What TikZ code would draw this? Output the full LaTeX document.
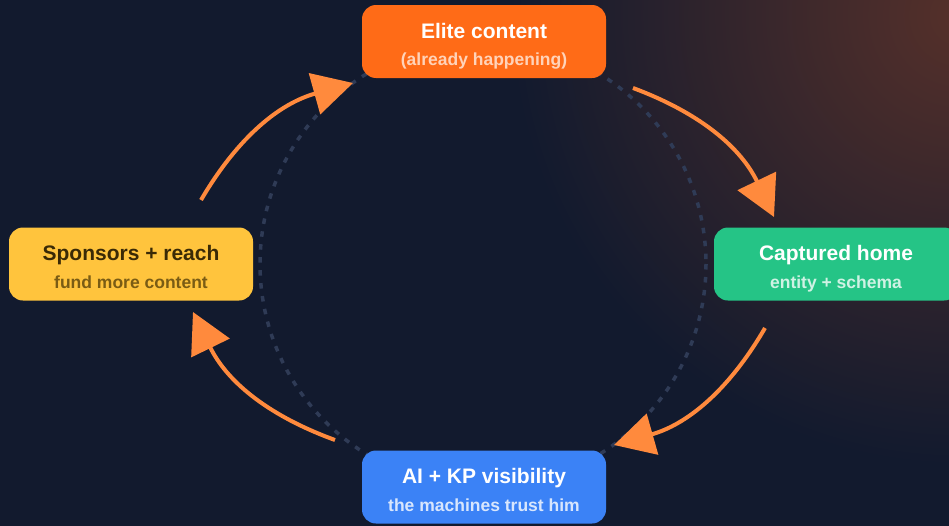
\documentclass[tikz,border=0pt]{standalone}
\usepackage{fontspec}
\setmainfont{Liberation Sans}
\usetikzlibrary{arrows.meta,calc,positioning}

\definecolor{bgnavy}{HTML}{121A2E}
\definecolor{glowbrown}{HTML}{55302A}
\definecolor{ringgrey}{HTML}{2F3B56}
\definecolor{cyclecol}{HTML}{FF8A3D}
\definecolor{elitefill}{HTML}{FF6B17}
\definecolor{homefill}{HTML}{25C486}
\definecolor{visfill}{HTML}{3B82F6}
\definecolor{sponsfill}{HTML}{FFC43D}
\definecolor{sponstext}{HTML}{3A2A06}
\definecolor{sponssub}{HTML}{7A5C14}

\begin{document}
\begin{tikzpicture}[x=1pt,y=-1pt,
  stage/.style={rounded corners=14pt,minimum width=244pt,minimum height=73pt,inner sep=0pt},
  headline/.style={anchor=base,font=\bfseries\fontsize{21}{25}\selectfont,text=white},
  subline/.style={anchor=base,font=\bfseries\fontsize{17.5}{21}\selectfont},
  cyclearrow/.style={color=cyclecol,line width=4pt,-{Triangle[length=40pt,width=42pt]}}]
  \clip (0,0) rectangle (949,525);
  \fill[bgnavy] (-5,-5) rectangle (954,530);
  \shade[inner color=glowbrown,outer color=bgnavy] (960,15) circle (450);
  % dotted ring behind the stages
  \draw[ringgrey,line width=3.5pt,dash pattern=on 5.5pt off 7.5pt] (483,264) circle (223);

  \node[stage,fill=elitefill] (elite) at (484,41.5) {};
  \node[stage,fill=homefill] (home) at (836,264) {};
  \node[stage,fill=visfill] (vis) at (484,487) {};
  \node[stage,fill=sponsfill] (sponsors) at (131,264) {};

  \node[headline] (elite-t) at ($(elite)+(0,-3.5)$) {Elite content};
  \node[subline,text=white!70!elitefill] (elite-s) at ($(elite)+(0,24)$) {(already happening)};
  \node[headline] (home-t) at ($(home)+(0,-3.5)$) {Captured home};
  \node[subline,text=white!78!homefill] (home-s) at ($(home)+(0,24)$) {entity + schema};
  \node[headline] (vis-t) at ($(vis)+(0,-3.5)$) {AI + KP visibility};
  \node[subline,text=white!80!visfill] (vis-s) at ($(vis)+(0,24)$) {the machines trust him};
  \node[headline,text=sponstext] (sponsors-t) at ($(sponsors)+(0,-3.5)$) {Sponsors + reach};
  \node[subline,text=sponssub] (sponsors-s) at ($(sponsors)+(0,24)$) {fund more content};

  \coordinate (a1) at (633,88);
  \coordinate (a2) at (765,328);
  \coordinate (a3) at (335,440);
  \coordinate (a4) at (201,200);
  \coordinate (b1) at (774,217);
  \coordinate (b2) at (614,445);
  \coordinate (b3) at (193,312);
  \coordinate (b4) at (353,83);
  \path
    (a1) edge [cyclearrow,bend left=22] (b1)
    (a2) edge [cyclearrow,bend left=22] (b2)
    (a3) edge [cyclearrow,bend left=22] (b3)
    (a4) edge [cyclearrow,bend left=22] (b4);
\end{tikzpicture}
\end{document}
